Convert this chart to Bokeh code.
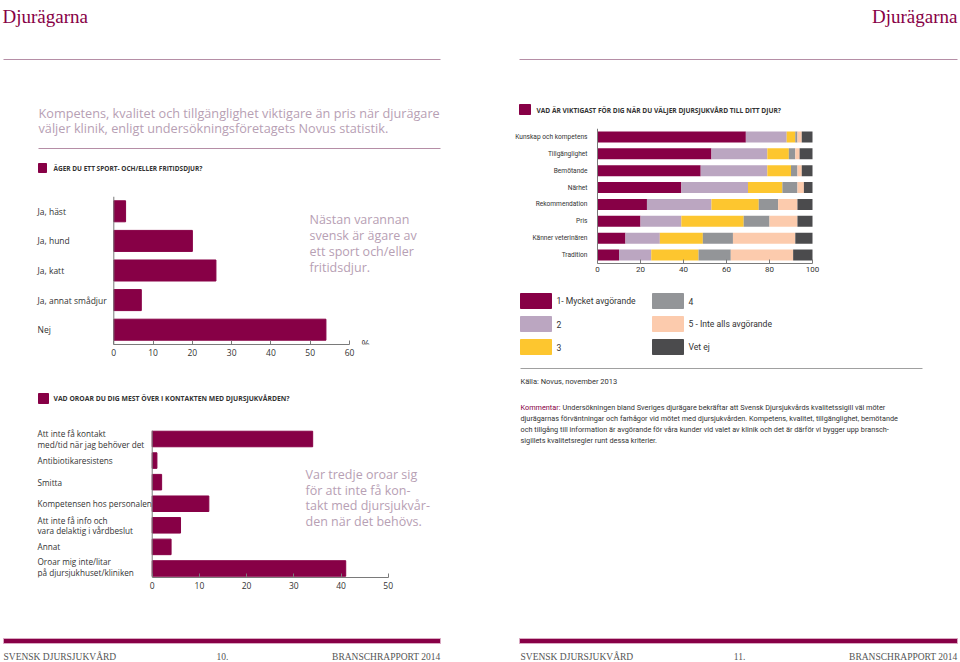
from bokeh.plotting import figure
from bokeh.layouts import column, row
from bokeh.models import (Range1d, LinearAxis, FixedTicker, Span, ColumnDataSource)
from bokeh.embed import file_html
from bokeh.resources import INLINE
from bokeh.core.properties import value

# ---------------- data ----------------
pet_categories = ["Ja, häst", "Ja, hund", "Ja, katt", "Ja, annat smådjur", "Nej"]
pet_values = [3, 20, 26, 7, 54]
pet_ticks = [0, 10, 20, 30, 40, 50, 60]

worry_categories = ["Att inte få kontakt\nmed/tid när jag behöver det",
                    "Antibiotikaresistens", "Smitta",
                    "Kompetensen hos personalen",
                    "Att inte få info och\nvara delaktig i vårdbeslut",
                    "Annat",
                    "Oroar mig inte/litar\npå djursjukhuset/kliniken"]
worry_values = [34, 1, 2, 12, 6, 4, 41]
worry_ticks = [0, 10, 20, 30, 40, 50]

factor_categories = ["Kunskap och kompetens", "Tillgänglighet", "Bemötande", "Närhet",
                     "Rekommendation", "Pris", "Känner veterinären", "Tradition"]
grade1 = [69, 53, 48, 39, 23, 20, 13, 10]
grade2 = [19, 26, 31, 31, 30, 19, 16, 15]
grade3 = [4, 10, 11, 16, 22, 29, 20, 22]
grade4 = [1, 3, 3, 7, 9, 12, 14, 15]
grade5 = [2, 2, 2, 3, 9, 13, 29, 29]
grade_dontknow = [5, 6, 5, 4, 7, 7, 8, 9]
factor_ticks = [0, 20, 40, 60, 80, 100]
grade_labels = ["1- Mycket avgörande", "2", "3", "4", "5 - Inte alls avgörande", "Vet ej"]

# ---------------- style ----------------
MAROON = "#870046"
GRADE_COLORS = ["#870046", "#bba6c1", "#fdc62f", "#939598", "#fccbad", "#4b4b4d"]
MAUVE_TXT = "#b7a0b4"
RULE = "#b58ea6"
DARK = "#333333"
AXIS = "#7a7a7a"
SANS = "Open Sans"
SERIF = "Liberation Serif"


def canvas(x0, x1, y0, y1):
    p = figure(width=x1 - x0, height=y1 - y0, x_range=Range1d(x0, x1),
               y_range=Range1d(y1, y0), x_axis_type=None, y_axis_type=None,
               min_border=0, toolbar_location=None, output_backend="svg")
    p.outline_line_color = None
    return p


def txt(p, x, y, s, size, color=DARK, font=SANS, align="left", baseline="middle",
        style="normal"):
    p.text(x=[x], y=[y], text=[s], text_font=value(font), text_font_size=size,
           text_color=color, text_align=align, text_baseline=baseline,
           text_font_style=style)


def bottom_axis(p, ticks, bounds, standoff, font=SANS, size="8.5px"):
    ax = LinearAxis(ticker=FixedTicker(ticks=ticks), bounds=bounds)
    ax.major_tick_in = 4
    ax.major_tick_out = 0
    ax.minor_tick_in = 0
    ax.minor_tick_out = 0
    ax.axis_line_color = AXIS
    ax.major_tick_line_color = AXIS
    ax.major_label_text_font = font
    ax.major_label_text_font_size = size
    ax.major_label_text_color = DARK
    ax.major_label_standoff = standoff
    p.add_layout(ax, "below")


def chart(width, height, xr, yr, border_bottom):
    p = figure(width=width, height=height, x_range=xr, y_range=yr,
               x_axis_type=None, y_axis_type=None, min_border=0,
               min_border_bottom=border_bottom, toolbar_location=None,
               output_backend="svg")
    p.outline_line_color = None
    return p


# ================= LEFT PAGE =================
L1 = canvas(0, 480, 0, 196)
txt(L1, 2, 16, "Djurägarna", "19px", MAROON, SERIF, baseline="alphabetic")
L1.segment(x0=[3], y0=[59], x1=[440], y1=[59], line_color=RULE, line_width=1)
txt(L1, 38, 112, "Kompetens, kvalitet och tillgänglighet viktigare än pris när djurägare",
    "12.7px", MAUVE_TXT)
txt(L1, 38, 127, "väljer klinik, enligt undersökningsföretagets Novus statistik.",
    "12.7px", MAUVE_TXT)
L1.segment(x0=[38], y0=[148], x1=[440], y1=[148], line_color=RULE, line_width=1)
L1.quad(left=[38], right=[46], top=[163], bottom=[172], color=MAROON)
txt(L1, 53, 168, "ÄGER DU ETT SPORT- OCH/ELLER FRITIDSDJUR?", "6.5px", DARK, style="bold")

# chart 1: pets
n1 = len(pet_categories)
z1, s1px = 113.3, 349.0
k1 = (s1px - z1) / 60.0
top1, axis1 = 196.0, 344.0
pitch1 = (axis1 - top1) / n1
xd1 = lambda px: (px - z1) / k1
yd1 = lambda py: (py - top1) / pitch1 - 0.5
p1 = chart(480, 174, Range1d(xd1(0), xd1(480)), Range1d(n1 - 0.5, -0.5), 26)
p1.hbar(y=list(range(n1)), left=0, right=pet_values, height=0.71, color=MAROON)
p1.add_layout(Span(location=0, dimension="height", line_color=AXIS, line_width=1))
p1.text(x=[xd1(37)] * n1, y=list(range(n1)), text=pet_categories,
        text_font=value(SANS), text_font_size="8.5px", text_color=DARK,
        text_baseline="middle", text_align="left")
bottom_axis(p1, pet_ticks, (0, 60), 4)
for i, line in enumerate(["Nästan varannan", "svensk är ägare av",
                          "ett sport och/eller", "fritidsdjur."]):
    txt(p1, xd1(309), yd1(219 + 16 * i), line, "12.5px", MAUVE_TXT)
txt(p1, xd1(361), yd1(343.5), "%", "10px", DARK, baseline="alphabetic")

L3a = canvas(0, 480, 370, 425)
L3a.quad(left=[38], right=[48], top=[393], bottom=[403], color=MAROON)
txt(L3a, 53, 398, "VAD OROAR DU DIG MEST ÖVER I KONTAKTEN MED DJURSJUKVÅRDEN?", "6.8px",
    DARK, style="bold")

# chart 3: worries
n3 = len(worry_categories)
z3, f3px = 151.7, 387.7
k3 = (f3px - z3) / 50.0
top3, axis3 = 425.0, 577.0
c0, pitch3 = 438.5, 21.58
xd3 = lambda px: (px - z3) / k3
yd3 = lambda py: (py - c0) / pitch3
p3 = chart(480, 175, Range1d(xd3(0), xd3(480)), Range1d(yd3(axis3), yd3(top3)), 23)
p3.hbar(y=list(range(n3)), left=0, right=worry_values, height=0.72, color=MAROON)
p3.segment(x0=[0], y0=[yd3(430)], x1=[0], y1=[yd3(axis3)], line_color=AXIS, line_width=1)
lab_x, lab_y, lab_t = [], [], []
half = 5.3 / pitch3
for i, cat in enumerate(worry_categories):
    parts = cat.split("\n")
    if len(parts) == 1:
        lab_x.append(xd3(37)); lab_y.append(i); lab_t.append(parts[0])
    else:
        shift = -0.06 if i == n3 - 1 else 0.0
        lab_x += [xd3(37), xd3(37)]
        lab_y += [i - half + shift, i + half + shift]
        lab_t += parts
p3.text(x=lab_x, y=lab_y, text=lab_t, text_font=value(SANS), text_font_size="8.2px",
        text_color=DARK, text_baseline="middle", text_align="left")
bottom_axis(p3, worry_ticks, (0, 50), 4)
for i, line in enumerate(["Var tredje oroar sig", "för att inte få kon-",
                          "takt med djursjukvår-", "den när det behövs."]):
    txt(p3, xd3(305), yd3(474 + 15.5 * i), line, "12.5px", MAUVE_TXT)

L4 = canvas(0, 480, 600, 662)
L4.quad(left=[3], right=[440], top=[638], bottom=[643], fill_color=MAROON,
        line_color="#d9a9c2", line_width=1)
txt(L4, 3, 656, "SVENSK DJURSJUKVÅRD", "9.5px", "#555555", SERIF)
txt(L4, 222, 656, "10.", "9.5px", "#555555", SERIF, align="center")
txt(L4, 440, 656, "BRANSCHRAPPORT 2014", "9.5px", "#555555", SERIF, align="right")

left = column(L1, p1, L3a, p3, L4)

# ================= RIGHT PAGE =================
R1 = canvas(480, 960, 0, 128)
txt(R1, 957, 16, "Djurägarna", "19px", MAROON, SERIF, align="right", baseline="alphabetic")
R1.segment(x0=[519], y0=[59], x1=[957], y1=[59], line_color=RULE, line_width=1)
R1.quad(left=[519], right=[530], top=[104], bottom=[114], color=MAROON)
txt(R1, 536, 109.5, "VAD ÄR VIKTIGAST FÖR DIG NÄR DU VÄLJER DJURSJUKVÅRD TILL DITT DJUR?",
    "6.6px", DARK, style="bold")

# chart 2: stacked factors
n2 = len(factor_categories)
z2, h2px = 597.0, 812.0
k2 = (h2px - z2) / 100.0
xd2 = lambda px: (px - z2) / k2
keys = ["g1", "g2", "g3", "g4", "g5", "g6"]
src = ColumnDataSource(dict(pos=list(range(n2)), g1=grade1, g2=grade2, g3=grade3,
                            g4=grade4, g5=grade5, g6=grade_dontknow))
p2 = chart(480, 152, Range1d(xd2(480), xd2(960)), Range1d(n2 - 0.5, -0.5), 17)
p2.hbar_stack(keys, y="pos", height=0.65, color=GRADE_COLORS, line_color=None, source=src)
p2.add_layout(Span(location=0, dimension="height", line_color=AXIS, line_width=1))
p2.text(x=[xd2(587)] * n2, y=list(range(n2)), text=factor_categories,
        text_font=value("Roboto"), text_font_size="6.6px", text_color=DARK,
        text_baseline="middle", text_align="right")
bottom_axis(p2, factor_ticks, (0, 100), 3, font="Roboto", size="8px")

R3 = canvas(480, 960, 280, 600)
sw_x = [520, 520, 520, 652, 652, 652]
sw_y = [293, 316, 339, 293, 316, 339]
R3.quad(left=sw_x, right=[x + 31 for x in sw_x], top=sw_y,
        bottom=[y + 15 for y in sw_y], color=GRADE_COLORS)
R3.text(x=[x + 36 for x in sw_x], y=[y + 7.5 for y in sw_y], text=grade_labels,
        text_font=value("Roboto"), text_font_size="8.6px", text_color=DARK,
        text_baseline="middle")
R3.segment(x0=[520], y0=[368], x1=[922], y1=[368], line_color="#a0a0a0", line_width=1)
txt(R3, 520, 381, "Källa: Novus, november 2013", "7.5px", DARK, "Roboto")
txt(R3, 520, 407, "Kommentar:", "7.3px", MAROON, "Roboto")
comment = ["Undersökningen bland Sveriges djurägare bekräftar att Svensk Djursjukvårds kvalitetssigill väl möter",
           "djurägarnas förväntningar och farhågor vid mötet med djursjukvården. Kompetens, kvalitet, tillgänglighet, bemötande",
           "och tillgång till information är avgörande för våra kunder vid valet av klinik och det är därför vi bygger upp bransch-",
           "sigillets kvalitetsregler runt dessa kriterier."]
txt(R3, 562, 407, comment[0], "7.3px", DARK, "Roboto")
for i in range(1, 4):
    txt(R3, 520, 407 + 11 * i, comment[i], "7.3px", DARK, "Roboto")

R5 = canvas(480, 960, 600, 662)
R5.quad(left=[519], right=[957], top=[638], bottom=[643], fill_color=MAROON,
        line_color="#d9a9c2", line_width=1)
txt(R5, 520, 656, "SVENSK DJURSJUKVÅRD", "9.5px", "#555555", SERIF)
txt(R5, 739, 656, "11.", "9.5px", "#555555", SERIF, align="center")
txt(R5, 957, 656, "BRANSCHRAPPORT 2014", "9.5px", "#555555", SERIF, align="right")

right = column(R1, p2, R3, R5)

page = row(left, right)
open("out.html", "w").write(file_html(page, INLINE))
